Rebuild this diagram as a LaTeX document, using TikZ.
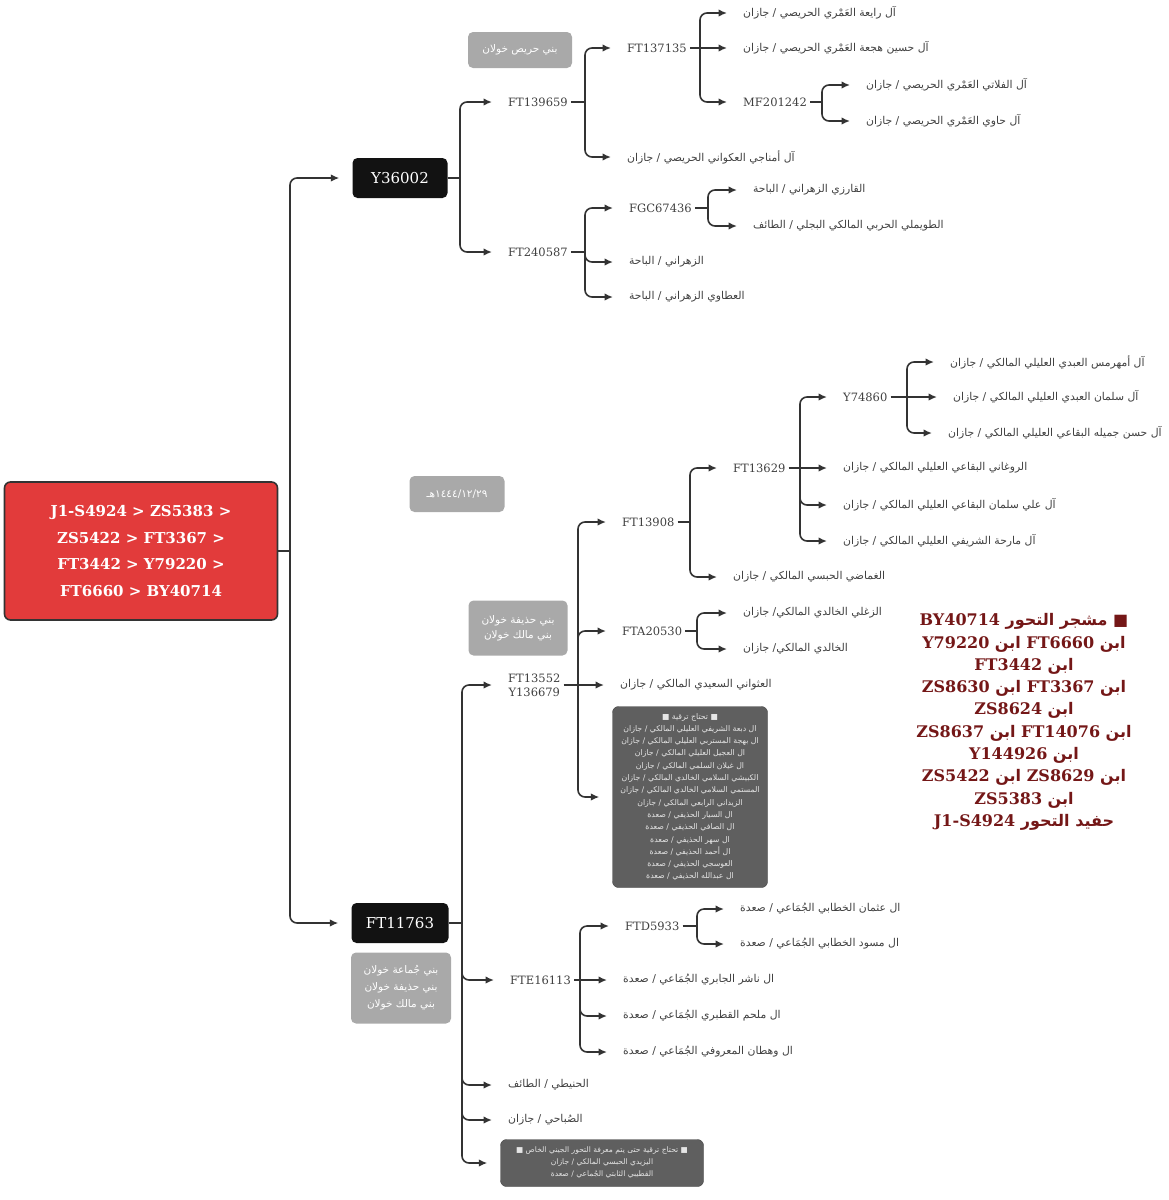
\documentclass[tikz,border=0pt]{standalone}
\usepackage{fontspec}
\usetikzlibrary{arrows.meta}
\setmainfont{DejaVu Serif}
\newfontfamily\arfont[Script=Arabic]{DejaVu Sans}
\TeXXeTstate=1
\newcommand\artxt[1]{{\arfont\beginR #1\endR}}
\newcommand\latxt[1]{\beginL{\rmfamily #1}\endL}
\definecolor{linkc}{HTML}{333333}
\definecolor{labelc}{HTML}{404040}
\definecolor{rootred}{HTML}{E23B3B}
\definecolor{greyb}{HTML}{A9A9A9}
\definecolor{darkb}{HTML}{5F5F5F}
\definecolor{notered}{HTML}{741717}

\begin{document}
\begin{tikzpicture}[x=1pt,y=-1pt,
  link/.style={draw=linkc,line width=1.6pt,rounded corners=7pt},
  arr/.style={link,-{Latex[length=8.5pt,width=7.5pt]},shorten >=13pt},
  hap/.style={anchor=west,inner sep=3pt,text=labelc,font=\fontsize{11.5}{14}\selectfont},
  fam/.style={anchor=west,inner sep=3pt,text=labelc,font=\fontsize{10.8}{13}\selectfont},
  blackbox/.style={fill=black!93,rounded corners=5pt,text=white,font=\fontsize{15}{18}\selectfont,minimum height=40pt},
  greybox/.style={fill=greyb,rounded corners=5pt,text=white,align=center,font=\fontsize{10.5}{15}\selectfont},
  darkbox/.style={fill=darkb,draw=darkb!70!black,rounded corners=6pt,text=white!90!black,align=center}]
  \useasboundingbox (0,0) rectangle (1169,1200);

  \node[draw=black!80,line width=1.6pt,fill=rootred,rounded corners=6pt,text=white,
    minimum width=273pt,minimum height=138pt,align=center,
    font=\fontsize{15}{26.5}\selectfont\bfseries] (root) at (141,551)
    {J1-S4924 > ZS5383 >\\ZS5422 > FT3367 >\\FT3442 > Y79220 >\\FT6660 > BY40714};

  \node[blackbox,minimum width=95pt] (y36002) at (400,178) {Y36002};
  \node[blackbox,minimum width=97pt] (ft11763) at (400,923) {FT11763};

  \node[greybox,minimum width=104pt,minimum height=36pt] (hurais) at (520,50) {\artxt{بني حريص خولان}};
  \node[greybox,minimum width=95pt,minimum height=36pt] (date) at (457,494) {\artxt{١٤٤٤/١٢/٢٩هـ}};
  \node[greybox,minimum width=99pt,minimum height=55pt] (hudhaifa) at (518,628)
    {\artxt{بني حذيفة خولان}\\\artxt{بني مالك خولان}};
  \node[greybox,minimum width=100pt,minimum height=71pt,font=\fontsize{10.5}{17}\selectfont] (jumaa) at (401,988)
    {\artxt{بني جُماعة خولان}\\\artxt{بني حذيفة خولان}\\\artxt{بني مالك خولان}};

  \node[hap] (ft139659) at (505,102) {FT139659};
  \node[hap] (ft240587) at (505,252) {FT240587};
  \node[hap] (ft137135) at (624,48) {FT137135};
  \node[hap] (mf201242) at (740,102) {MF201242};
  \node[hap] (fgc67436) at (626,208) {FGC67436};
  \node[hap,align=center] (ft13552) at (505,685) {FT13552\\Y136679};
  \node[hap] (ft13908) at (619,522) {FT13908};
  \node[hap] (ft13629) at (730,468) {FT13629};
  \node[hap] (y74860) at (840,397) {Y74860};
  \node[hap] (fta20530) at (619,631) {FTA20530};
  \node[hap] (fte16113) at (507,980) {FTE16113};
  \node[hap] (ftd5933) at (622,926) {FTD5933};

  \node[fam] (rayia) at (740,13) {\artxt{آل رايعة العَمْري الحريصي / جازان}};
  \node[fam] (hujaa) at (740,48) {\artxt{آل حسين هجعة العَمْري الحريصي / جازان}};
  \node[fam] (falati) at (863,85) {\artxt{آل الفلاتي العَمْري الحريصي / جازان}};
  \node[fam] (hawi) at (863,121) {\artxt{آل حاوي العَمْري الحريصي / جازان}};
  \node[fam] (amnaji) at (624,157) {\artxt{آل أمناجي العكواني الحريصي / جازان}};
  \node[fam] (qarizi) at (750,190) {\artxt{القارزي الزهراني / الباحة}};
  \node[fam] (tuwaimli) at (750,226) {\artxt{الطويملي الحربي المالكي البجلي / الطائف}};
  \node[fam] (zahrani) at (626,262) {\artxt{الزهراني / الباحة}};
  \node[fam] (atawi) at (626,297) {\artxt{العطاوي الزهراني / الباحة}};
  \node[fam] (amhurmus) at (947,362) {\artxt{آل أمهرمس العبدي العليلي المالكي / جازان}};
  \node[fam] (salman) at (950,397) {\artxt{آل سلمان العبدي العليلي المالكي / جازان}};
  \node[fam] (jamila) at (945,433) {\artxt{آل حسن جميله البقاعي العليلي المالكي / جازان}};
  \node[fam] (rawghani) at (840,468) {\artxt{الروغاني البقاعي العليلي المالكي / جازان}};
  \node[fam] (alisalman) at (840,505) {\artxt{آل علي سلمان البقاعي العليلي المالكي / جازان}};
  \node[fam] (mariha) at (840,541) {\artxt{آل مارحة الشريفي العليلي المالكي / جازان}};
  \node[fam] (ghamadi) at (730,577) {\artxt{الغماضي الحبسي المالكي / جازان}};
  \node[fam] (zughli) at (740,613) {\artxt{الزغلي الخالدي المالكي/ جازان}};
  \node[fam] (khalidi) at (740,649) {\artxt{الخالدي المالكي/ جازان}};
  \node[fam] (athwani) at (617,685) {\artxt{العثواني السعيدي المالكي / جازان}};
  \node[fam] (uthman) at (737,909) {\artxt{ال عثمان الخطابي الجُمَاعي / صعدة}};
  \node[fam] (masud) at (737,944) {\artxt{ال مسود الخطابي الجُمَاعي / صعدة}};
  \node[fam] (nashir) at (620,980) {\artxt{ال ناشر الجابري الجُمَاعي / صعدة}};
  \node[fam] (mulhim) at (620,1016) {\artxt{ال ملحم القطبري الجُمَاعي / صعدة}};
  \node[fam] (wahtan) at (620,1052) {\artxt{ال وهطان المعروفي الجُمَاعي / صعدة}};
  \node[fam] (hunaiti) at (505,1085) {\artxt{الحنيطي / الطائف}};
  \node[fam] (subahi) at (505,1120) {\artxt{الصُباحي / جازان}};

  \node[darkbox,minimum width=155pt,minimum height=181pt,font=\fontsize{7.8}{12.3}\selectfont] (upgrade) at (690,797)
    {\artxt{■ تحتاج ترقية ■}\\
     \artxt{ال دبعة الشريفي العليلي المالكي / جازان}\\
     \artxt{ال بهجة المستربي العليلي المالكي / جازان}\\
     \artxt{ال العجيل العليلي المالكي / جازان}\\
     \artxt{ال غيلان السلمي المالكي / جازان}\\
     \artxt{الكبيشي السلامي الخالدي المالكي / جازان}\\
     \artxt{المستمي السلامي الخالدي المالكي / جازان}\\
     \artxt{الزيداني الرابعي المالكي / جازان}\\
     \artxt{ال السيار الحذيفي / صعدة}\\
     \artxt{ال الصافي الحذيفي / صعدة}\\
     \artxt{ال سهر الحذيفي / صعدة}\\
     \artxt{ال أحمد الحذيفي / صعدة}\\
     \artxt{العوسجي الحذيفي / صعدة}\\
     \artxt{ال عبدالله الحذيفي / صعدة}};
  \node[darkbox,minimum width=203pt,minimum height=47pt,font=\fontsize{7.6}{12}\selectfont] (pending) at (602,1163)
    {\artxt{■ تحتاج ترقية حتى يتم معرفة التحور الجيني الخاص ■}\\
     \artxt{اليزيدي الحبسي المالكي / جازان}\\
     \artxt{القطيبي الثابتي الجُماعي / صعدة}};

  \node[align=center,text=notered,font=\fontsize{16}{22.3}\selectfont\bfseries] (note) at (1024,722)
    {\artxt{■ مشجر التحور \latxt{BY40714}}\\
     \artxt{ابن \latxt{FT6660} ابن \latxt{Y79220}}\\
     \artxt{ابن \latxt{FT3442}}\\
     \artxt{ابن \latxt{FT3367} ابن \latxt{ZS8630}}\\
     \artxt{ابن \latxt{ZS8624}}\\
     \artxt{ابن \latxt{FT14076} ابن \latxt{ZS8637}}\\
     \artxt{ابن \latxt{Y144926}}\\
     \artxt{ابن \latxt{ZS8629} ابن \latxt{ZS5422}}\\
     \artxt{ابن \latxt{ZS5383}}\\
     \artxt{حفيد التحور \latxt{J1-S4924}}};

  \coordinate (jroot) at (290,551);
  \coordinate (jy36002) at (460,178);
  \coordinate (j139659) at (585,102);
  \coordinate (j137135) at (700,48);
  \coordinate (j201242) at (822,102);
  \coordinate (j240587) at (585,252);
  \coordinate (j67436) at (708,208);
  \coordinate (j11763) at (462,923);
  \coordinate (j13552) at (578,685);
  \coordinate (j13908) at (690,522);
  \coordinate (j13629) at (800,468);
  \coordinate (j74860) at (907,397);
  \coordinate (j20530) at (697,631);
  \coordinate (j16113) at (580,980);
  \coordinate (j5933) at (697,926);

  \draw[link] (root.east) -- (jroot);
  \foreach \c in {y36002,ft11763} \draw[arr] (jroot) |- (\c.west);

  \draw[link] (y36002.east) -- (jy36002);
  \foreach \c in {ft139659,ft240587} \draw[arr] (jy36002) |- (\c.west);
  \draw[link] (ft139659.east) -- (j139659);
  \foreach \c in {ft137135,amnaji} \draw[arr] (j139659) |- (\c.west);
  \draw[link] (ft137135.east) -- (j137135);
  \foreach \c in {rayia,mf201242} \draw[arr] (j137135) |- (\c.west);
  \draw[arr] (j137135) -- (hujaa.west);
  \draw[link] (mf201242.east) -- (j201242);
  \foreach \c in {falati,hawi} \draw[arr] (j201242) |- (\c.west);
  \draw[link] (ft240587.east) -- (j240587);
  \foreach \c in {fgc67436,zahrani,atawi} \draw[arr] (j240587) |- (\c.west);
  \draw[link] (fgc67436.east) -- (j67436);
  \foreach \c in {qarizi,tuwaimli} \draw[arr] (j67436) |- (\c.west);

  \draw[link] (ft11763.east) -- (j11763);
  \foreach \c in {ft13552,fte16113,hunaiti,subahi,pending} \draw[arr] (j11763) |- (\c.west);
  \draw[link] (ft13552.east) -- (j13552);
  \foreach \c in {ft13908,fta20530,upgrade} \draw[arr] (j13552) |- (\c.west);
  \draw[arr] (j13552) -- (athwani.west);
  \draw[link] (ft13908.east) -- (j13908);
  \foreach \c in {ft13629,ghamadi} \draw[arr] (j13908) |- (\c.west);
  \draw[link] (ft13629.east) -- (j13629);
  \foreach \c in {y74860,alisalman,mariha} \draw[arr] (j13629) |- (\c.west);
  \draw[arr] (j13629) -- (rawghani.west);
  \draw[link] (y74860.east) -- (j74860);
  \foreach \c in {amhurmus,jamila} \draw[arr] (j74860) |- (\c.west);
  \draw[arr] (j74860) -- (salman.west);
  \draw[link] (fta20530.east) -- (j20530);
  \foreach \c in {zughli,khalidi} \draw[arr] (j20530) |- (\c.west);
  \draw[link] (fte16113.east) -- (j16113);
  \foreach \c in {ftd5933,mulhim,wahtan} \draw[arr] (j16113) |- (\c.west);
  \draw[arr] (j16113) -- (nashir.west);
  \draw[link] (ftd5933.east) -- (j5933);
  \foreach \c in {uthman,masud} \draw[arr] (j5933) |- (\c.west);
\end{tikzpicture}
\end{document}
